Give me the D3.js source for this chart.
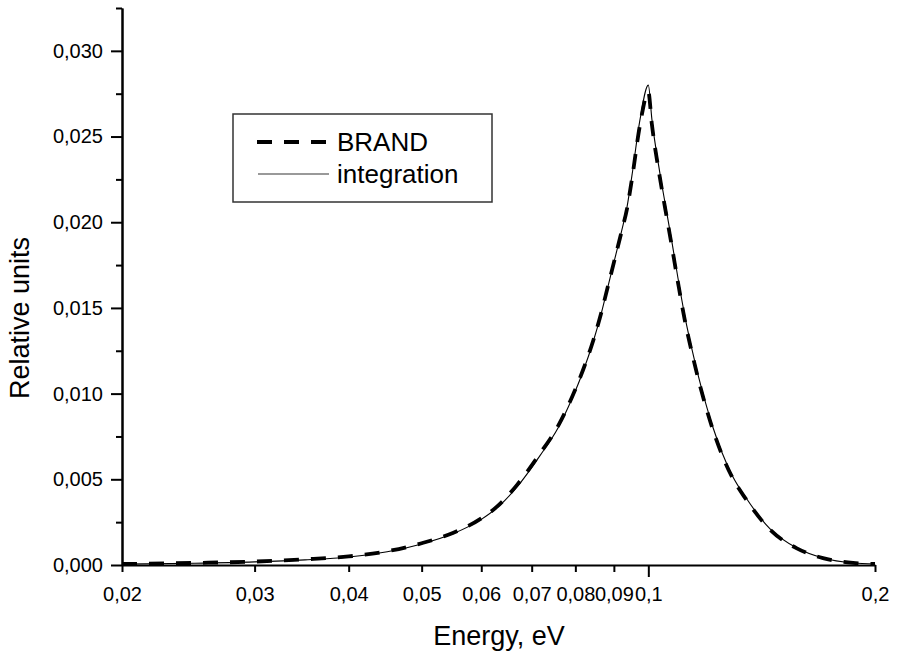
<!DOCTYPE html>
<html>
<head>
<meta charset="utf-8">
<script src="https://cdn.jsdelivr.net/npm/d3@7"></script>
<style>
body { margin: 0; background: #fff; }
text { font-family: "Liberation Sans", Arial, sans-serif; fill: #000; }
</style>
</head>
<body>
<script>
// energy grid, eV
var energy = [0.020, 0.025, 0.030, 0.035, 0.040, 0.045, 0.050, 0.055, 0.060, 0.063,
	0.0645, 0.0669, 0.0718, 0.0759, 0.0792, 0.0819, 0.0845, 0.0866, 0.0884, 0.0903,
	0.0922, 0.0937, 0.0951, 0.0975, 0.100, 0.1011, 0.1036, 0.1052, 0.1075, 0.1095,
	0.1119, 0.1143, 0.1164, 0.1189, 0.1219, 0.1253, 0.1295, 0.1348, 0.1451, 0.1575,
	0.1706, 0.187, 0.200];

var integration = [0.00005, 0.00010, 0.00018, 0.00030, 0.00047, 0.00077, 0.00123, 0.00182, 0.00266, 0.00335,
	0.00377, 0.00454, 0.00638, 0.00801, 0.00971, 0.01129, 0.01304, 0.01468, 0.01626, 0.0179,
	0.01953, 0.0209, 0.0227, 0.0260, 0.0280, 0.0260, 0.02287, 0.02117, 0.01883, 0.01673,
	0.01444, 0.01257, 0.01111, 0.00959, 0.00801, 0.00655, 0.00515, 0.00392, 0.00211, 0.00099,
	0.00041, 0.00012, 0.00006];

var brand = [0.00006, 0.00012, 0.00020, 0.00033, 0.00050, 0.00080, 0.00127, 0.00187, 0.00272, 0.00342,
	0.00386, 0.00466, 0.0065, 0.00812, 0.0098, 0.01138, 0.0131, 0.01472, 0.01628, 0.0179,
	0.0195, 0.0208, 0.0225, 0.0257, 0.0276, 0.0257, 0.0226, 0.0209, 0.01855, 0.01648,
	0.0142, 0.01236, 0.01092, 0.00942, 0.00786, 0.00642, 0.00505, 0.00384, 0.00206, 0.00097,
	0.0004, 0.00012, 0.00006];

var xTicks = [0.02, 0.03, 0.04, 0.05, 0.06, 0.07, 0.08, 0.09, 0.1, 0.2];
var xMajor = [0.1];
var yTicks = [0, 0.005, 0.010, 0.015, 0.020, 0.025, 0.030];
var yMinor = [0.0025, 0.0075, 0.0125, 0.0175, 0.0225, 0.0275, 0.0325];

var seriesNames = ["BRAND", "integration"];

var W = 898, H = 654;
var margin = {left: 122, top: 8, right: 23, bottom: 89};
var w = W - margin.left - margin.right;
var h = H - margin.top - margin.bottom;

var locale = d3.formatLocale({decimal: ",", thousands: " ", grouping: [3], currency: ["", ""]});
var fmtY = locale.format(".3f");
var fmtX = locale.format("~g");

var svg = d3.select("body")
			.append("svg")
			.attr("width", W)
			.attr("height", H);

var g = svg.append("g")
	.attr("transform", "translate(" + margin.left + "," + margin.top + ")");

var x = d3.scaleLog().domain([0.02, 0.2]).range([0, w]);
var y = d3.scaleLinear().domain([0, 0.0325]).range([h, 0]);

// lines
var dataI = energy.map(function(e, i) { return [e, integration[i]]; });
var dataB = energy.map(function(e, i) { return [e, brand[i]]; });

var line = d3.line()
	.x(function(d) { return x(d[0]); })
	.y(function(d) { return y(d[1]); })
	.curve(d3.curveMonotoneX);

g.append("path")
	.attr("d", line(dataB))
	.attr("fill", "none")
	.attr("stroke", "#000")
	.attr("stroke-width", 3.8)
	.attr("stroke-dasharray", "15,12");

g.append("path")
	.attr("d", line(dataI))
	.attr("fill", "none")
	.attr("stroke", "#000")
	.attr("stroke-width", 1.1);

// y axis
g.append("g")
	.call(d3.axisLeft(y).tickValues(yTicks).tickFormat(fmtY).tickSize(11).tickPadding(8).tickSizeOuter(0));
g.append("g")
	.call(d3.axisLeft(y).tickValues(yMinor).tickFormat("").tickSize(6).tickSizeOuter(0));

// x axis
var xAxis = g.append("g")
	.attr("transform", "translate(0," + h + ")")
	.call(d3.axisBottom(x).tickValues(xTicks).tickFormat(fmtX)
		.tickSize(7).tickPadding(15).tickSizeOuter(0));
xAxis.selectAll(".tick line")
	.attr("y2", function(d) { return xMajor.indexOf(d) >= 0 ? 12 : 7; });

g.selectAll(".domain").attr("stroke", "#000").attr("stroke-width", 2);
g.selectAll(".tick line").attr("stroke", "#000").attr("stroke-width", 2);
g.selectAll(".tick text")
	.attr("font-size", "20px")
	.style("font-family", "'Liberation Sans', Arial, sans-serif");

// titles
svg.append("text")
	.attr("x", 499)
	.attr("y", 645)
	.attr("text-anchor", "middle")
	.attr("font-size", "27px")
	.text("Energy, eV");

svg.append("text")
	.attr("transform", "translate(29,318) rotate(-90)")
	.attr("text-anchor", "middle")
	.attr("font-size", "27px")
	.text("Relative units");

// legend
var lg = svg.append("g").attr("transform", "translate(233,114)");
lg.append("rect")
	.attr("width", 259)
	.attr("height", 88)
	.attr("fill", "#fff")
	.attr("stroke", "#333")
	.attr("stroke-width", 1.5);
lg.append("line")
	.attr("x1", 24).attr("x2", 96)
	.attr("y1", 28).attr("y2", 28)
	.attr("stroke", "#000")
	.attr("stroke-width", 4)
	.attr("stroke-dasharray", "15,12");
lg.append("line")
	.attr("x1", 25).attr("x2", 96)
	.attr("y1", 60).attr("y2", 60)
	.attr("stroke", "#777")
	.attr("stroke-width", 1.5);
lg.selectAll("text.lab")
	.data(seriesNames)
	.enter()
	.append("text")
	.attr("class", "lab")
	.attr("x", 104)
	.attr("y", function(d, i) { return 28 + i * 32; })
	.attr("dy", "0.35em")
	.attr("font-size", "26px")
	.text(function(d) { return d; });
</script>
</body>
</html>
